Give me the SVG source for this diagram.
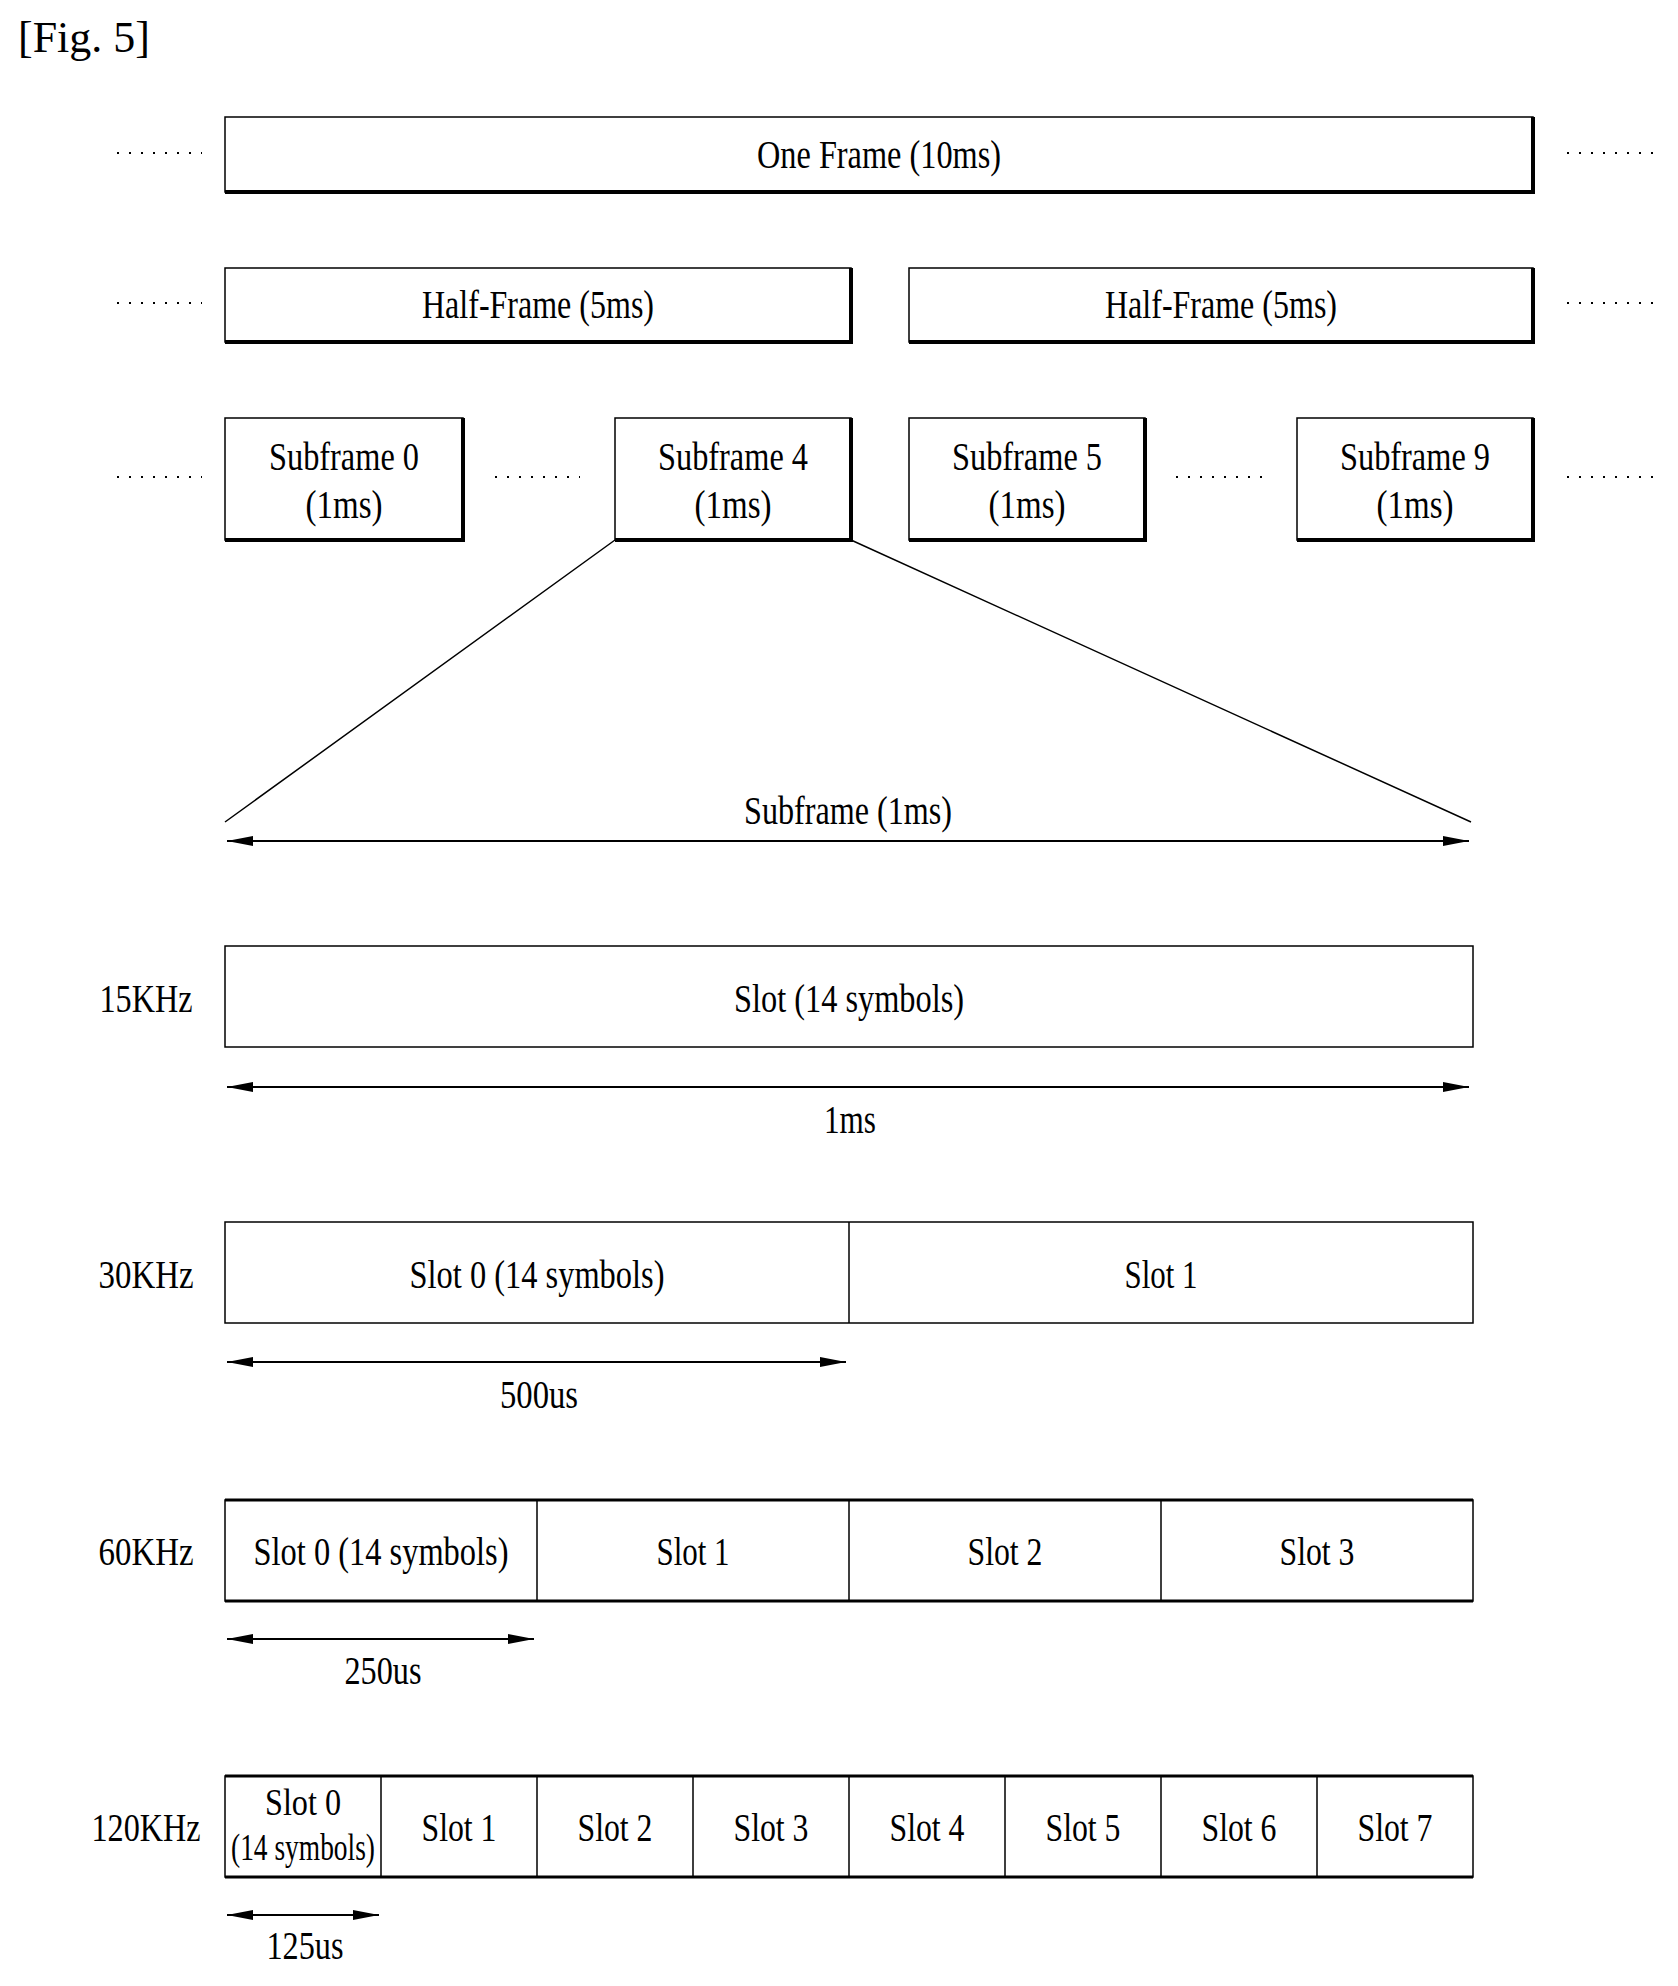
<svg xmlns="http://www.w3.org/2000/svg" width="1678" height="1986" viewBox="0 0 1678 1986">
<style>
text{font-family:"Liberation Serif","Times New Roman",serif;font-size:40px;fill:#000;text-anchor:middle}
.b{fill:#fff;stroke:#000;stroke-width:1.5}
.sh{fill:none;stroke:#000;stroke-width:4}
.ln{fill:none;stroke:#000;stroke-width:1.5}
.dot{fill:none;stroke:#000;stroke-width:2;stroke-dasharray:2 10}
.ar{fill:none;stroke:#000;stroke-width:1.8;marker-start:url(#a);marker-end:url(#a)}
</style>
<defs>
<marker id="a" viewBox="0 0 10 10" refX="10" refY="5" markerWidth="26" markerHeight="10" orient="auto-start-reverse" markerUnits="userSpaceOnUse" preserveAspectRatio="none"><path d="M0,0L10,5L0,10z" fill="#000"/></marker>
</defs>
<text x="18" y="52" style="text-anchor:start;font-size:44px">[Fig. 5]</text>
<g id="dots">
<path class="dot" d="M117,153H202M1567,153H1653M117,303H202M1567,303H1653M117,477H202M495,477H580M1176,477H1262M1567,477H1653"/>
</g>
<g id="frame"><rect class="b" x="225" y="117" width="1308" height="75"/><path class="sh" d="M225,192H1533V117"/><text x="879" y="168" textLength="244" lengthAdjust="spacingAndGlyphs">One Frame (10ms)</text></g>
<g id="half0"><rect class="b" x="225" y="268" width="626" height="74"/><path class="sh" d="M225,342H851V268"/><text x="538" y="318" textLength="232" lengthAdjust="spacingAndGlyphs">Half-Frame (5ms)</text></g>
<g id="half1"><rect class="b" x="909" y="268" width="624" height="74"/><path class="sh" d="M909,342H1533V268"/><text x="1221" y="318" textLength="232" lengthAdjust="spacingAndGlyphs">Half-Frame (5ms)</text></g>
<g id="sf0"><rect class="b" x="225" y="418" width="238" height="122"/><path class="sh" d="M225,540H463V418"/><text x="344" y="470" textLength="150" lengthAdjust="spacingAndGlyphs">Subframe 0</text><text x="344" y="518" textLength="77" lengthAdjust="spacingAndGlyphs">(1ms)</text></g>
<g id="sf4"><rect class="b" x="615" y="418" width="236" height="122"/><path class="sh" d="M615,540H851V418"/><text x="733" y="470" textLength="150" lengthAdjust="spacingAndGlyphs">Subframe 4</text><text x="733" y="518" textLength="77" lengthAdjust="spacingAndGlyphs">(1ms)</text></g>
<g id="sf5"><rect class="b" x="909" y="418" width="236" height="122"/><path class="sh" d="M909,540H1145V418"/><text x="1027" y="470" textLength="150" lengthAdjust="spacingAndGlyphs">Subframe 5</text><text x="1027" y="518" textLength="77" lengthAdjust="spacingAndGlyphs">(1ms)</text></g>
<g id="sf9"><rect class="b" x="1297" y="418" width="236" height="122"/><path class="sh" d="M1297,540H1533V418"/><text x="1415" y="470" textLength="150" lengthAdjust="spacingAndGlyphs">Subframe 9</text><text x="1415" y="518" textLength="77" lengthAdjust="spacingAndGlyphs">(1ms)</text></g>
<g id="connectors">
<path class="ln" d="M615,540L225,822M851,540L1471,822"/>
<path class="ar" d="M227,841H1469"/>
<path class="ar" d="M227,1087H1469"/>
<path class="ar" d="M227,1362H846"/>
<path class="ar" d="M227,1639H534"/>
<path class="ar" d="M227,1915H379"/>
</g>
<text x="848" y="824" textLength="208" lengthAdjust="spacingAndGlyphs">Subframe (1ms)</text>
<text x="850" y="1133" textLength="52" lengthAdjust="spacingAndGlyphs">1ms</text>
<text x="539" y="1408" textLength="78" lengthAdjust="spacingAndGlyphs">500us</text>
<text x="383" y="1684" textLength="77" lengthAdjust="spacingAndGlyphs">250us</text>
<text x="305" y="1959" textLength="77" lengthAdjust="spacingAndGlyphs">125us</text>
<text x="146" y="1012" textLength="93" lengthAdjust="spacingAndGlyphs">15KHz</text>
<text x="146" y="1288" textLength="95" lengthAdjust="spacingAndGlyphs">30KHz</text>
<text x="146" y="1565" textLength="95" lengthAdjust="spacingAndGlyphs">60KHz</text>
<text x="146" y="1841" textLength="109" lengthAdjust="spacingAndGlyphs">120KHz</text>
<g id="r15"><rect class="b" x="225" y="946" width="1248" height="101"/><text x="849" y="1012" textLength="230" lengthAdjust="spacingAndGlyphs">Slot (14 symbols)</text></g>
<g id="r30"><rect class="b" x="225" y="1222" width="1248" height="101"/><path class="ln" d="M849,1222V1323"/><text x="537" y="1288" textLength="255" lengthAdjust="spacingAndGlyphs">Slot 0 (14 symbols)</text><text x="1161" y="1288" textLength="73" lengthAdjust="spacingAndGlyphs">Slot 1</text></g>
<g id="r60"><rect class="b" x="225" y="1500" width="1248" height="101"/><path class="ln" d="M537,1500V1601M849,1500V1601M1161,1500V1601"/><path class="sh" style="stroke-width:3" d="M225,1500H1473M225,1601H1473"/>
<text x="381" y="1565" textLength="255" lengthAdjust="spacingAndGlyphs">Slot 0 (14 symbols)</text><text x="693" y="1565" textLength="73" lengthAdjust="spacingAndGlyphs">Slot 1</text><text x="1005" y="1565" textLength="75" lengthAdjust="spacingAndGlyphs">Slot 2</text><text x="1317" y="1565" textLength="75" lengthAdjust="spacingAndGlyphs">Slot 3</text></g>
<g id="r120"><rect class="b" x="225" y="1776" width="1248" height="101"/><path class="ln" d="M381,1776V1877M537,1776V1877M693,1776V1877M849,1776V1877M1005,1776V1877M1161,1776V1877M1317,1776V1877"/><path class="sh" style="stroke-width:3" d="M225,1776H1473M225,1877H1473"/>
<text x="303" y="1815" style="font-size:37px" textLength="76" lengthAdjust="spacingAndGlyphs">Slot 0</text><text x="303" y="1860" style="font-size:37px" textLength="144" lengthAdjust="spacingAndGlyphs">(14 symbols)</text>
<text x="459" y="1841" textLength="75" lengthAdjust="spacingAndGlyphs">Slot 1</text><text x="615" y="1841" textLength="75" lengthAdjust="spacingAndGlyphs">Slot 2</text><text x="771" y="1841" textLength="75" lengthAdjust="spacingAndGlyphs">Slot 3</text><text x="927" y="1841" textLength="75" lengthAdjust="spacingAndGlyphs">Slot 4</text><text x="1083" y="1841" textLength="75" lengthAdjust="spacingAndGlyphs">Slot 5</text><text x="1239" y="1841" textLength="75" lengthAdjust="spacingAndGlyphs">Slot 6</text><text x="1395" y="1841" textLength="75" lengthAdjust="spacingAndGlyphs">Slot 7</text></g>
</svg>
